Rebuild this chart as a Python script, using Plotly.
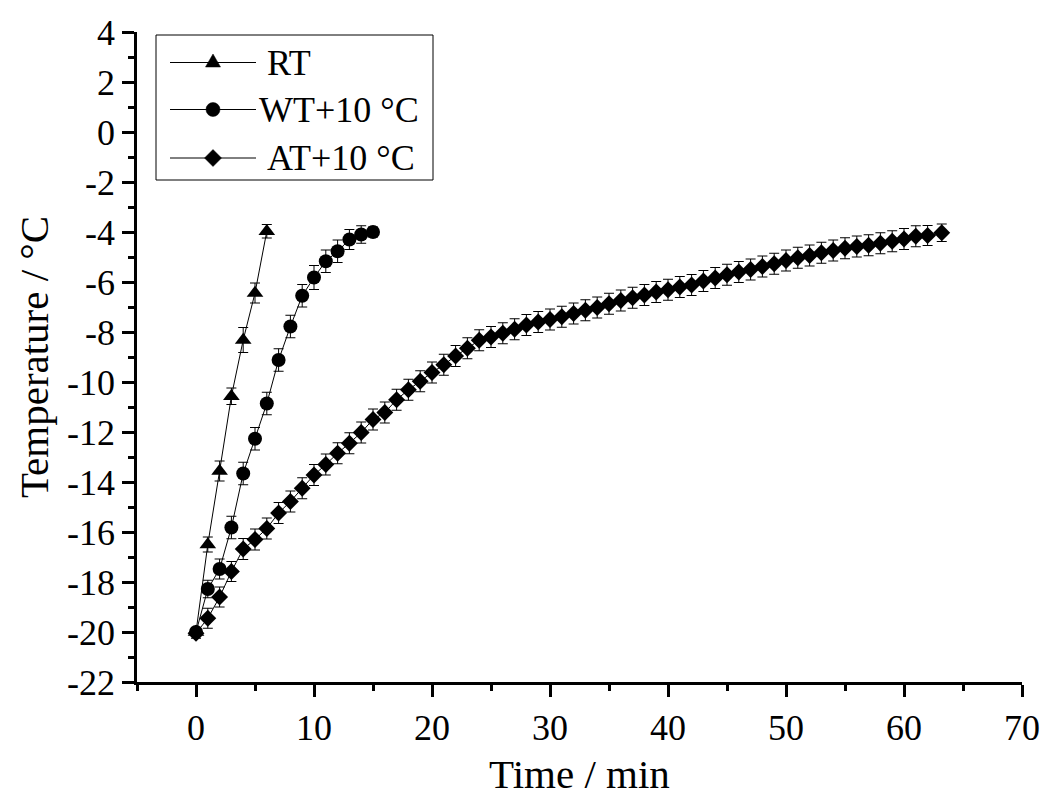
import plotly.graph_objects as go

# RT
rt_x = [0, 1, 2, 3, 4, 5, 6]
rt_y = [-20.0, -16.5, -13.56, -10.57, -8.32, -6.44, -3.97]
rt_err = [0.15, 0.3, 0.4, 0.33, 0.5, 0.4, 0.27]

# WT+10 °C
wt_x = [0, 1, 2, 3, 4, 5, 6, 7, 8, 9, 10, 11, 12, 13, 14, 15]
wt_y = [-20.0, -18.28, -17.48, -15.82, -13.66, -12.27, -10.86, -9.12, -7.78, -6.55,
        -5.82, -5.17, -4.77, -4.3, -4.1, -4.0]
wt_err = [0.15, 0.35, 0.4, 0.45, 0.45, 0.45, 0.45, 0.45, 0.45, 0.45,
          0.48, 0.45, 0.45, 0.4, 0.35, 0.2]

# AT+10 °C
at_x = list(range(0, 63)) + [63.2]
at_y = [-20.05, -19.45, -18.6, -17.58, -16.68, -16.3, -15.86, -15.24, -14.78, -14.25,
        -13.72, -13.3, -12.85, -12.45, -12.02, -11.5, -11.22, -10.71, -10.31, -9.97,
        -9.62, -9.31, -8.96, -8.65, -8.33, -8.2, -8.05, -7.89, -7.72, -7.6,
        -7.5, -7.39, -7.26, -7.13, -7.02, -6.87, -6.74, -6.63, -6.52, -6.4,
        -6.31, -6.2, -6.12, -5.96, -5.84, -5.71, -5.6, -5.5, -5.38, -5.27,
        -5.14, -5.03, -4.94, -4.83, -4.74, -4.65, -4.58, -4.53, -4.45, -4.37,
        -4.28, -4.17, -4.14, -4.03]
at_err = [0.2, 0.4, 0.4, 0.4, 0.42, 0.42, 0.42, 0.42, 0.42, 0.42,
          0.42, 0.42, 0.42, 0.42, 0.42, 0.42, 0.42, 0.42, 0.42, 0.42,
          0.42, 0.42, 0.42, 0.42, 0.42, 0.42, 0.42, 0.42, 0.42, 0.42,
          0.42, 0.42, 0.42, 0.42, 0.42, 0.42, 0.42, 0.42, 0.42, 0.42,
          0.42, 0.42, 0.42, 0.42, 0.42, 0.42, 0.42, 0.42, 0.42, 0.42,
          0.42, 0.42, 0.42, 0.42, 0.42, 0.42, 0.42, 0.42, 0.42, 0.42,
          0.42, 0.42, 0.4, 0.35]

x_ticks = [0, 10, 20, 30, 40, 50, 60, 70]
y_ticks = list(range(-22, 5, 2))

legend_names = ["RT", "WT+10 °C", "AT+10 °C"]

FONT = "Liberation Serif, Times New Roman, serif"

W, H = 1059, 797
ML, MR, MT, MB = 137, 37, 32, 115
PW, PH = W - ML - MR, H - MT - MB


def px(x):
    return (x - ML) / PW


def py(y):
    return (H - MB - y) / PH


def series(x, y, err, name, symbol, size):
    return go.Scatter(
        x=x, y=y, name=name, mode="lines+markers", showlegend=False,
        line=dict(color="black", width=1),
        marker=dict(symbol=symbol, size=size, color="black"),
        error_y=dict(type="data", array=err, visible=True, color="black",
                     thickness=1, width=5),
    )


fig = go.Figure()
fig.add_trace(series(rt_x, rt_y, rt_err, legend_names[0], "triangle-up", 14.5))
fig.add_trace(series(wt_x, wt_y, wt_err, legend_names[1], "circle", 14))
fig.add_trace(series(at_x, at_y, at_err, legend_names[2], "diamond", 13))

# ---- legend (drawn as decoration in paper coordinates) ----
shapes = []
annotations = []
box = dict(x0=156, x1=433, y0=35, y1=180)
shapes.append(dict(type="rect", xref="paper", yref="paper",
                   x0=px(box["x0"]), x1=px(box["x1"]), y0=py(box["y1"]), y1=py(box["y0"]),
                   line=dict(color="black", width=1), fillcolor="white", layer="above"))
row_y = [62.5, 109.5, 158]
text_x = [265, 257, 265]
mx = 213
for i, ry in enumerate(row_y):
    shapes.append(dict(type="line", xref="paper", yref="paper",
                       x0=px(170), x1=px(256), y0=py(ry), y1=py(ry),
                       line=dict(color="black", width=1), layer="above"))
    if i == 0:
        pts = [(mx - 7.5, ry + 4.5), (mx + 7.5, ry + 4.5), (mx, ry - 8.5)]
        path = "M {} {} L {} {} L {} {} Z".format(*[v for p in pts for v in (px(p[0]), py(p[1]))])
        shapes.append(dict(type="path", xref="paper", yref="paper", path=path,
                           fillcolor="black", line=dict(color="black", width=0.5), layer="above"))
    elif i == 1:
        shapes.append(dict(type="circle", xref="paper", yref="paper",
                           x0=px(mx - 7), x1=px(mx + 7), y0=py(ry + 7), y1=py(ry - 7),
                           fillcolor="black", line=dict(color="black", width=0.5), layer="above"))
    else:
        pts = [(mx - 8.5, ry), (mx, ry - 8.5), (mx + 8.5, ry), (mx, ry + 8.5)]
        path = "M {} {} L {} {} L {} {} L {} {} Z".format(*[v for p in pts for v in (px(p[0]), py(p[1]))])
        shapes.append(dict(type="path", xref="paper", yref="paper", path=path,
                           fillcolor="black", line=dict(color="black", width=0.5), layer="above"))
    annotations.append(dict(xref="paper", yref="paper", x=px(text_x[i]), y=py(ry),
                            xanchor="left", yanchor="middle", showarrow=False,
                            text=legend_names[i],
                            font=dict(family=FONT, size=36, color="black")))

fig.update_layout(
    width=W, height=H,
    margin=dict(l=ML, r=MR, t=MT, b=MB, autoexpand=False),
    paper_bgcolor="white", plot_bgcolor="white",
    font=dict(family=FONT, size=36, color="black"),
    showlegend=False,
    shapes=shapes,
    annotations=annotations,
    xaxis=dict(
        range=[-5, 70], tickvals=x_ticks, ticktext=[str(v) for v in x_ticks],
        showgrid=False, zeroline=False, showline=True, linecolor="black", linewidth=2.5,
        ticks="outside", ticklen=12, tickwidth=2.5, tickcolor="black",
        minor=dict(dtick=5, tick0=0, ticks="outside", ticklen=6, tickwidth=2.5, tickcolor="black"),
        tickfont=dict(family=FONT, size=36, color="black"),
        automargin=False,
        title=dict(text="Time / min", font=dict(family=FONT, size=41, color="black"), standoff=16),
    ),
    yaxis=dict(
        range=[-22, 4], tickvals=y_ticks, ticktext=[str(v) for v in y_ticks],
        showgrid=False, zeroline=False, showline=True, linecolor="black", linewidth=2.5,
        ticks="outside", ticklen=12, tickwidth=2.5, tickcolor="black",
        minor=dict(dtick=1, tick0=0, ticks="outside", ticklen=6, tickwidth=2.5, tickcolor="black"),
        tickfont=dict(family=FONT, size=36, color="black"),
        automargin=False,
        title=dict(text="Temperature / °C", font=dict(family=FONT, size=41, color="black"), standoff=6),
    ),
)

fig.write_html("out.html")
